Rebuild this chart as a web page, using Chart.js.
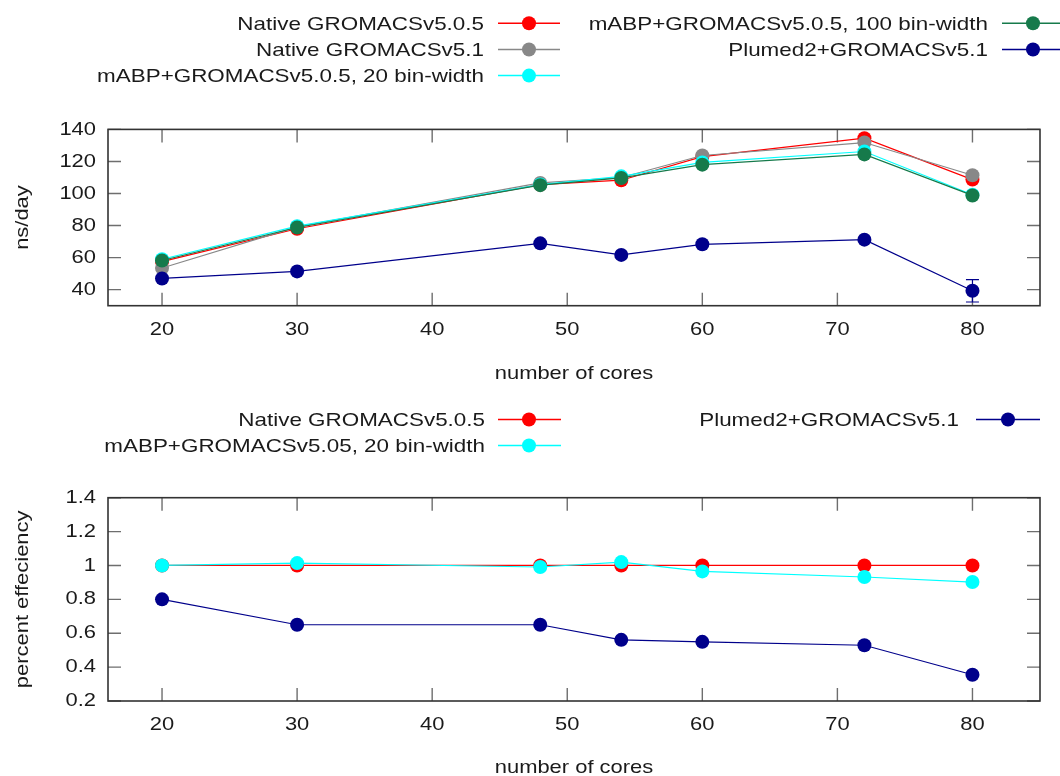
<!DOCTYPE html>
<html><head><meta charset="utf-8">
<script src="https://cdn.jsdelivr.net/npm/chart.js@4.4.1/dist/chart.umd.min.js"></script>
<style>
html,body{margin:0;padding:0;background:#fff;overflow:hidden;width:1060px;height:776px}
#c1{position:absolute;left:0;top:0}
#c2{position:absolute;left:0;top:388px}
</style></head><body>
<canvas id="c1" width="1060" height="388"></canvas>
<canvas id="c2" width="1060" height="400"></canvas>
<script>
// ---------- data ----------
const cores = [20, 30, 48, 54, 60, 72, 80];
const xTicks = [20, 30, 40, 50, 60, 70, 80];
const perfTicks = [40, 60, 80, 100, 120, 140];
const effTicks = [0.2, 0.4, 0.6, 0.8, 1, 1.2, 1.4];

const perfNames = ['Native GROMACSv5.0.5', 'Native GROMACSv5.1', 'mABP+GROMACSv5.0.5, 20 bin-width', 'mABP+GROMACSv5.0.5, 100 bin-width', 'Plumed2+GROMACSv5.1'];
const perfNative505 = [57.5, 78.0, 105.5, 108.3, 123.0, 134.5, 108.7];
const perfNative51  = [53.5, 79.2, 106.6, 110.0, 123.7, 131.8, 111.4];
const perfMabp20    = [59.0, 79.6, 105.6, 110.7, 119.4, 126.2, 99.2];
const perfMabp100   = [58.2, 78.8, 105.2, 109.7, 118.0, 124.4, 98.8];
const perfPlumed    = [47.0, 51.4, 68.9, 61.7, 68.3, 71.2, 39.3];
const perfPlumedErr = [0, 0, 0, 0, 0, 0, 7.0];

const effNames = ['Native GROMACSv5.0.5', 'mABP+GROMACSv5.05, 20 bin-width', 'Plumed2+GROMACSv5.1'];
const effNative505 = [1, 1, 1, 1, 1, 1, 1];
const effMabp20    = [1.0, 1.014, 0.991, 1.02, 0.965, 0.932, 0.902];
const effPlumed    = [0.8, 0.65, 0.65, 0.561, 0.549, 0.529, 0.355];

// ---------- style ----------
const COL = {red:'#ff0000', grey:'#888888', cyan:'#00ffff', green:'#167a4b', blue:'#00008b'};
const FONT = {family:'"Liberation Sans", Arial, sans-serif', size:18.6};
const LEGEND_SIZE = 19;
const TXT = '#1a1a1a';
const STRETCH = 1.18;

function stretchText(ctx){
  const orig = ctx.fillText;
  ctx.fillText = function(t, x, y, mw){
    this.save(); this.translate(x, y); this.scale(STRETCH, 1);
    if (mw === undefined) orig.call(this, t, 0, 0); else orig.call(this, t, 0, 0, mw / STRETCH);
    this.restore();
  };
}

const pts = vals => cores.map((c, i) => ({x: c, y: vals[i]}));
function ds(label, vals, color, order){
  return {label, data: pts(vals), borderColor: color, backgroundColor: color,
    pointBackgroundColor: color, pointBorderWidth: 0, pointRadius: 7, pointHoverRadius: 7,
    borderWidth: 1.2, tension: 0, order};
}

const framePlugin = {
  id: 'frame',
  beforeDatasetsDraw(chart){
    const {ctx, chartArea: a, scales} = chart;
    const L = 13;
    ctx.save();
    ctx.strokeStyle = '#6e6e6e'; ctx.lineWidth = 1.4;
    ctx.beginPath();
    scales.x.ticks.forEach(t => {
      const p = scales.x.getPixelForValue(t.value);
      ctx.moveTo(p, a.bottom); ctx.lineTo(p, a.bottom - L);
      ctx.moveTo(p, a.top); ctx.lineTo(p, a.top + L);
    });
    scales.y.ticks.forEach(t => {
      const p = scales.y.getPixelForValue(t.value);
      ctx.moveTo(a.left, p); ctx.lineTo(a.left + L, p);
      ctx.moveTo(a.right, p); ctx.lineTo(a.right - L, p);
    });
    ctx.stroke();
    ctx.restore();
  },
  afterDatasetsDraw(chart){
    const {ctx, chartArea: a} = chart;
    ctx.save();
    ctx.strokeStyle = '#333'; ctx.lineWidth = 1.6;
    ctx.strokeRect(a.left, a.top, a.right - a.left, a.bottom - a.top);
    ctx.restore();
  }
};

const errPlugin = {
  id: 'errbars',
  beforeDatasetsDraw(chart, args, opts){
    if (!opts || !opts.errors) return;
    const {ctx, scales} = chart;
    const d = chart.data.datasets[opts.datasetIndex];
    ctx.save();
    ctx.strokeStyle = d.borderColor; ctx.lineWidth = 1.2;
    ctx.beginPath();
    d.data.forEach((p, i) => {
      const e = opts.errors[i];
      if (!e) return;
      const x = scales.x.getPixelForValue(p.x);
      const y1 = scales.y.getPixelForValue(p.y - e), y2 = scales.y.getPixelForValue(p.y + e);
      ctx.moveTo(x, y1); ctx.lineTo(x, y2);
      ctx.moveTo(x - 6.5, y1); ctx.lineTo(x + 6.5, y1);
      ctx.moveTo(x - 6.5, y2); ctx.lineTo(x + 6.5, y2);
    });
    ctx.stroke();
    ctx.restore();
  }
};

const legendPlugin = {
  id: 'gnuLegend',
  afterDraw(chart, args, opts){
    if (!opts || !opts.items) return;
    const ctx = chart.ctx;
    ctx.save();
    ctx.font = LEGEND_SIZE + 'px ' + FONT.family;
    ctx.textAlign = 'right'; ctx.textBaseline = 'alphabetic';
    opts.items.forEach(it => {
      ctx.fillStyle = TXT;
      ctx.fillText(it.text, it.tr, it.y + 6.8);
      ctx.strokeStyle = it.color; ctx.lineWidth = 1.5;
      ctx.beginPath(); ctx.moveTo(it.x1, it.y); ctx.lineTo(it.x2, it.y); ctx.stroke();
      ctx.fillStyle = it.color;
      ctx.beginPath(); ctx.arc(it.mx, it.y, 7, 0, Math.PI * 2); ctx.fill();
    });
    ctx.restore();
  }
};

function axes(cfg){
  return {
    x: {type: 'linear', min: 16, max: 85,
      afterBuildTicks: s => { s.ticks = xTicks.map(v => ({value: v})); },
      afterFit: s => { s.height = cfg.xh; },
      grid: {display: false, drawTicks: false}, border: {display: false},
      ticks: {padding: cfg.xpad, font: FONT, color: TXT, maxRotation: 0, autoSkip: false, callback: v => String(v)},
      title: {display: true, text: 'number of cores', font: FONT, color: TXT, padding: {top: 0, bottom: cfg.xtpad}}},
    y: {type: 'linear', min: cfg.ymin, max: cfg.ymax,
      afterBuildTicks: s => { s.ticks = cfg.yticks.map(v => ({value: v})); },
      afterFit: s => { s.width = 108; },
      grid: {display: false, drawTicks: false}, border: {display: false},
      ticks: {padding: 12, font: FONT, color: TXT, autoSkip: false, callback: v => String(+(+v).toFixed(1))},
      title: {display: true, text: cfg.ytitle, font: FONT, color: TXT, padding: {top: 11.5, bottom: 0}}}
  };
}

function legendItems(names, colors, slots){
  return names.map((n, i) => Object.assign({text: n, color: colors[i]}, slots[i]));
}

// ---------- chart 1 ----------
const ctx1 = document.getElementById('c1').getContext('2d');
stretchText(ctx1);
const perfColors = [COL.red, COL.grey, COL.cyan, COL.green, COL.blue];
const c1a = {tr: 484, x1: 498, x2: 560, mx: 529};
const c1b = {tr: 988, x1: 1002, x2: 1064, mx: 1033};
new Chart(ctx1, {
  type: 'line',
  data: {datasets: [
    ds(perfNames[0], perfNative505, COL.red, 4),
    ds(perfNames[1], perfNative51, COL.grey, 3),
    ds(perfNames[2], perfMabp20, COL.cyan, 2),
    ds(perfNames[3], perfMabp100, COL.green, 1),
    ds(perfNames[4], perfPlumed, COL.blue, 0)
  ]},
  options: {
    responsive: false, animation: false, devicePixelRatio: 1,
    layout: {padding: {left: 0, right: 20, top: 129.4, bottom: 0}},
    plugins: {legend: {display: false}, tooltip: {enabled: false},
      errbars: {datasetIndex: 4, errors: perfPlumedErr},
      gnuLegend: {items: legendItems(perfNames, perfColors, [
        Object.assign({y: 23.3}, c1a), Object.assign({y: 49.5}, c1a), Object.assign({y: 75.6}, c1a),
        Object.assign({y: 23.3}, c1b), Object.assign({y: 49.5}, c1b)])}},
    scales: axes({xh: 82.3, xpad: 13, xtpad: 2.8, ymin: 30, ymax: 140, yticks: perfTicks, ytitle: 'ns/day'})
  },
  plugins: [framePlugin, errPlugin, legendPlugin]
});

// ---------- chart 2 ----------
const ctx2 = document.getElementById('c2').getContext('2d');
stretchText(ctx2);
const effColors = [COL.red, COL.cyan, COL.blue];
const c2a = {tr: 485, x1: 498, x2: 561, mx: 529};
const c2b = {tr: 959, x1: 976, x2: 1040, mx: 1008};
new Chart(ctx2, {
  type: 'line',
  data: {datasets: [
    ds(effNames[0], effNative505, COL.red, 2),
    ds(effNames[1], effMabp20, COL.cyan, 1),
    ds(effNames[2], effPlumed, COL.blue, 0)
  ]},
  options: {
    responsive: false, animation: false, devicePixelRatio: 1,
    layout: {padding: {left: 0, right: 20, top: 109.7, bottom: 0}},
    plugins: {legend: {display: false}, tooltip: {enabled: false},
      gnuLegend: {items: legendItems(effNames, effColors, [
        Object.assign({y: 31.5}, c2a), Object.assign({y: 57.5}, c2a), Object.assign({y: 31.5}, c2b)])}},
    scales: axes({xh: 87, xpad: 12.8, xtpad: 8.8, ymin: 0.2, ymax: 1.4, yticks: effTicks, ytitle: 'percent effeciency'})
  },
  plugins: [framePlugin, legendPlugin]
});
</script>
</body></html>
